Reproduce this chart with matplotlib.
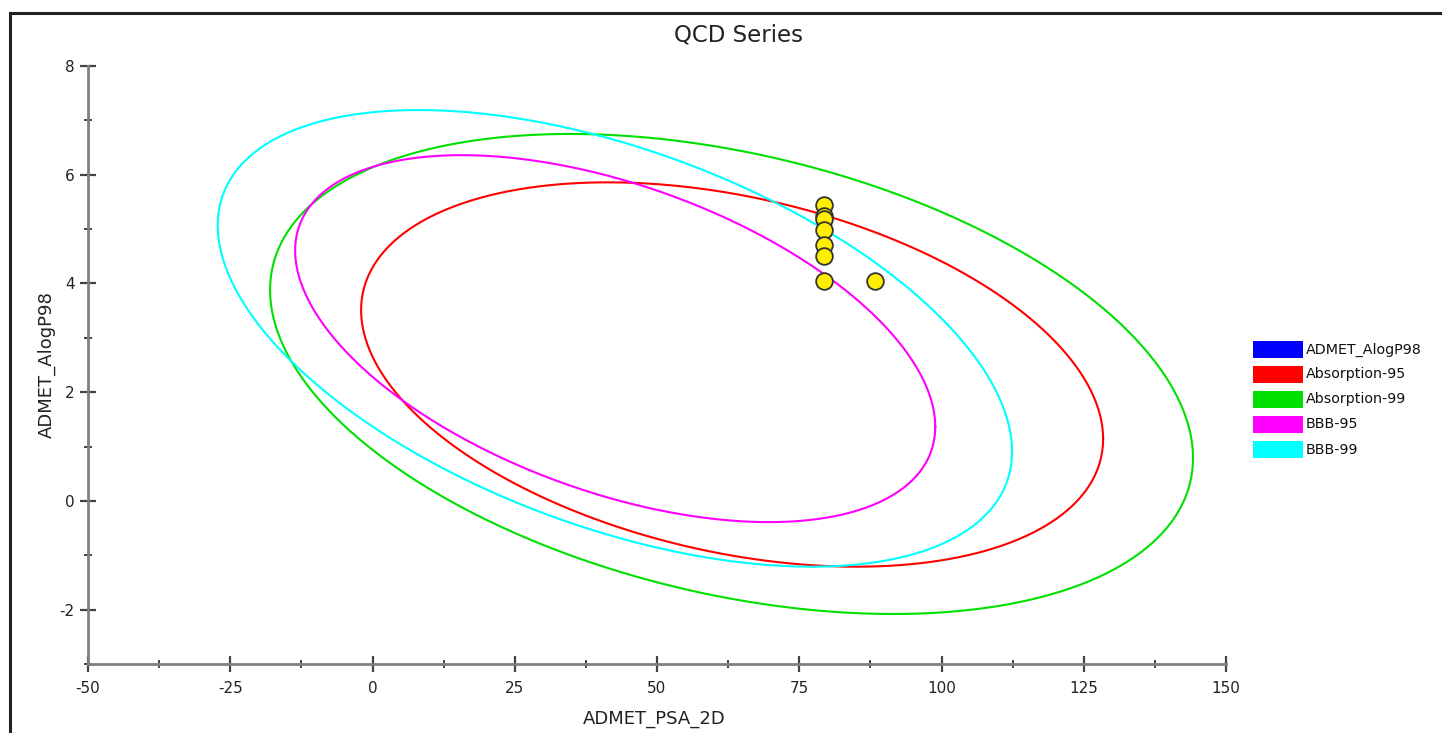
import numpy as np
import matplotlib
matplotlib.use("Agg")
import matplotlib.pyplot as plt
from matplotlib.patches import Rectangle

plt.rcParams["axes.unicode_minus"] = False

# Confidence ellipses: center, half-extent in x and y, x/y correlation
ellipse_names = ["Absorption-95", "Absorption-99", "BBB-95", "BBB-99"]
ellipse_colors = ["#ff0000", "#00e000", "#ff00ff", "#00ffff"]
ellipse_cx = [63.2, 63.1, 42.65, 42.6]
ellipse_cy = [2.325, 2.335, 2.985, 2.99]
ellipse_rx = [65.2, 81.1, 56.25, 69.8]
ellipse_ry = [3.535, 4.415, 3.375, 4.2]
ellipse_rho = [-0.335, -0.35, -0.48, -0.495]

# Compounds (ADMET_PSA_2D, ADMET_AlogP98)
psa_2d = [79.4, 79.4, 79.4, 79.4, 79.4, 79.4, 79.4, 88.3]
alogp98 = [5.44, 5.24, 5.18, 4.98, 4.71, 4.50, 4.04, 4.04]

series_name = "ADMET_AlogP98"

W, H = 1442, 733
fig = plt.figure(figsize=(W / 100, H / 100), dpi=100)
fig.patch.set_facecolor("white")

# outer frame (top and left edges visible)
fig.add_artist(plt.Line2D([10 / W, 10 / W], [0, 1 - 13 / H], color="#222222", lw=2.2,
                          transform=fig.transFigure))
fig.add_artist(plt.Line2D([10 / W, 1], [1 - 13 / H, 1 - 13 / H], color="#222222", lw=2.2,
                          transform=fig.transFigure))

ax = fig.add_axes([88 / W, 69 / H, (1226 - 88) / W, (664 - 66) / H])

t = np.linspace(0, 2 * np.pi, 600)
for name, c, cx, cy, rx, ry, rho in zip(ellipse_names, ellipse_colors, ellipse_cx,
                                         ellipse_cy, ellipse_rx, ellipse_ry, ellipse_rho):
    phi = np.arccos(rho)
    ax.plot(cx + rx * np.cos(t), cy + ry * np.cos(t + phi), color=c, lw=1.5, zorder=2)

ax.plot(psa_2d, alogp98, linestyle="none", marker="o", markersize=12,
        markerfacecolor="#ffee00", markeredgecolor="#333333", markeredgewidth=1.3, zorder=3)

ax.set_xlim(-50, 150)
ax.set_ylim(-3, 8)
ax.set_xticks(np.arange(-50, 151, 25))
ax.set_xticks(np.arange(-50, 151, 12.5), minor=True)
ax.set_yticks(np.arange(-2, 9, 2))
ax.set_yticks(np.arange(-3, 9, 1), minor=True)

for s in ["top", "right"]:
    ax.spines[s].set_visible(False)
for s in ["left", "bottom"]:
    ax.spines[s].set_color("#808080")
    ax.spines[s].set_linewidth(2)

ax.tick_params(which="major", direction="inout", length=11, width=1.6, color="#444444",
               labelsize=11, labelcolor="#222222")
ax.tick_params(axis="x", which="major", pad=7)
ax.tick_params(axis="y", which="major", pad=4)
ax.tick_params(which="minor", direction="inout", length=6, width=1.4, color="#444444")
ax.set_facecolor("white")

ax.set_xlabel("ADMET_PSA_2D", fontsize=13, color="#222222", va="center")
ax.set_ylabel("ADMET_AlogP98", fontsize=13, color="#222222", va="center")
ax.xaxis.set_label_coords(0.498, (664 - 719) / 598)
ax.yaxis.set_label_coords((47 - 88) / 1138, 0.5)

fig.text(738 / W, 1 - 35 / H, "QCD Series", ha="center", va="center", fontsize=16.5,
         color="#222222")

# legend: colour swatches with labels, one row per series
legend_labels = [series_name] + ellipse_names
legend_colors = ["#0000ff"] + ellipse_colors
for i, (lab, c) in enumerate(zip(legend_labels, legend_colors)):
    yc = 349.5 + 25 * i
    fig.add_artist(Rectangle((1253 / W, 1 - (yc + 8.5) / H), 50 / W, 17 / H,
                             facecolor=c, edgecolor="none", transform=fig.transFigure))
    fig.text(1306 / W, 1 - yc / H, lab, ha="left", va="center", fontsize=10.3,
             color="#111111")

fig.savefig("out.png", dpi=100, facecolor="white")
